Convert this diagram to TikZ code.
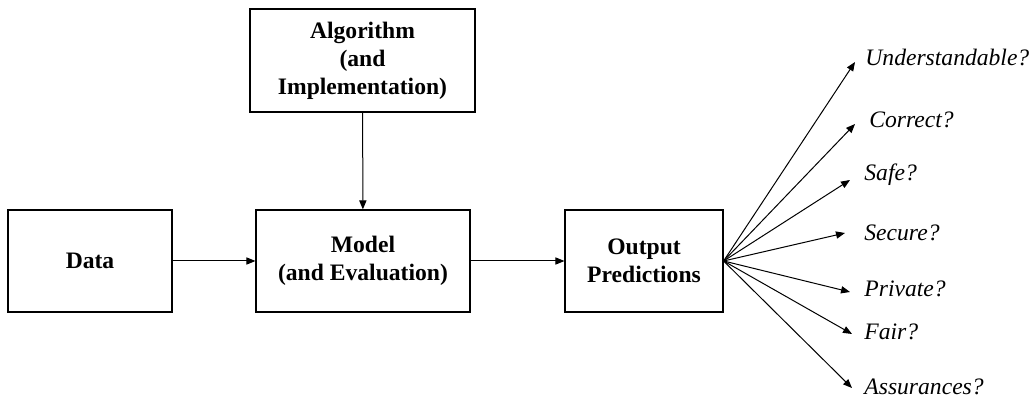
\documentclass[tikz,border=0pt]{standalone}
\usepackage{fontspec}
\setmainfont{Liberation Serif}
\usetikzlibrary{arrows.meta}

\begin{document}
\begin{tikzpicture}[
        x=0.5pt, y=-0.5pt,
        box/.style={rectangle, draw, line width=0.6pt, align=center, inner sep=0pt,
            font=\fontsize{11.8}{14}\selectfont\bfseries},
        query/.style={anchor=west, inner sep=0pt, font=\fontsize{11.8}{14}\selectfont\itshape},
        arrow/.style={-{Triangle[length=4.5pt, width=3.6pt]}, line width=0.5pt}
    ]
    \useasboundingbox (0,0) rectangle (1031,399);

    % Main pipeline
    \node[box, minimum width=82pt, minimum height=51pt] (data) at (90,261) {Data};
    \node[box, minimum width=107pt, minimum height=51pt] (model) at (363,261) {Model\\(and Evaluation)};
    \node[box, minimum width=112.5pt, minimum height=51.5pt] (algo) at (362.5,60.5) {Algorithm\\(and\\Implementation)};
    \node[box, minimum width=79pt, minimum height=51pt] (pred) at (644,261) {Output\\Predictions};

    \draw[arrow] (data) -- (model);
    \draw[arrow] (algo) -- (model);
    \draw[arrow] (model) -- (pred);

    % Questions about the predictions
    \coordinate (tipU) at (855,62);
    \coordinate (tipC) at (855,124);
    \coordinate (tipS) at (850,180);
    \coordinate (tipE) at (845,233);
    \coordinate (tipP) at (850,292);
    \coordinate (tipF) at (852,334);
    \coordinate (tipA) at (852,388);

    \node[query] (qU) at (865,57) {Understandable?};
    \node[query] (qC) at (869,120) {Correct?};
    \node[query] (qS) at (864,175) {Safe?};
    \node[query] (qE) at (864,233) {Secure?};
    \node[query] (qP) at (864,289) {Private?};
    \node[query] (qF) at (864,332) {Fair?};
    \node[query] (qA) at (864,387) {Assurances?};

    \foreach \t in {U,C,S,E,P,F,A}
        \draw[arrow] (pred.east) -- (tip\t);

\end{tikzpicture}
\end{document}
